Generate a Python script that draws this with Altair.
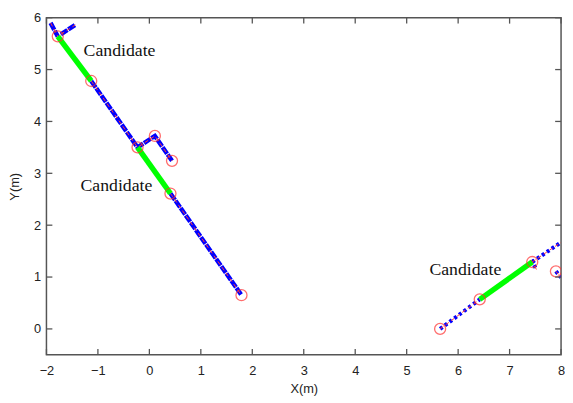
import altair as alt
import pandas as pd

# ---- data ----
# dense blue scan segments (left cluster)
dense_seg = ["A", "A", "B", "B", "C", "C", "C", "C", "D", "D"]
dense_x = [-1.92, -1.78, -1.72, -1.44, -1.13, -0.23, 0.107, 0.44, 0.41, 1.79]
dense_y = [5.90, 5.64, 5.68, 5.86, 4.78, 3.50, 3.72, 3.24, 2.61, 0.65]

# sparse blue scan segments (right cluster)
sparse_seg = ["E", "E", "F", "F", "G", "G", "H", "H"]
sparse_x = [5.65, 6.42, 7.44, 8.0, 7.42, 7.53, 7.90, 8.0]
sparse_y = [0.00, 0.57, 1.29, 1.67, 1.33, 1.13, 1.11, 0.99]

# green candidate segments
green_seg = ["G1", "G1", "G2", "G2", "G3", "G3"]
green_x = [-1.78, -1.13, -0.23, 0.41, 6.42, 7.44]
green_y = [5.64, 4.78, 3.50, 2.61, 0.57, 1.29]

# red circles (segment end points)
circle_x = [-1.78, -1.13, -0.23, 0.107, 0.44, 0.41, 1.79, 5.65, 6.42, 7.44, 7.90]
circle_y = [5.64, 4.78, 3.50, 3.72, 3.24, 2.61, 0.65, 0.00, 0.57, 1.29, 1.11]

# labels
label_text = ["Candidate", "Candidate", "Candidate"]
label_x = [-0.58, -0.64, 6.14]
label_y = [5.27, 2.66, 1.03]

x_ticks = [-2, -1, 0, 1, 2, 3, 4, 5, 6, 7, 8]
y_ticks = [0, 1, 2, 3, 4, 5, 6]

W, H = 522, 342
TICK = 6


def seg_frame(segs, xs, ys):
    return pd.DataFrame({"seg": segs, "x": xs, "y": ys, "ord": list(range(len(xs)))})


dense_df = seg_frame(dense_seg, dense_x, dense_y)
sparse_df = seg_frame(sparse_seg, sparse_x, sparse_y)
all_blue_df = pd.concat([dense_df, sparse_df], ignore_index=True)
all_blue_df["ord"] = range(len(all_blue_df))
green_df = seg_frame(green_seg, green_x, green_y)
circle_df = pd.DataFrame({"x": circle_x, "y": circle_y})
label_df = pd.DataFrame({"t": label_text, "x": label_x, "y": label_y})
xt_df = pd.DataFrame({"x": x_ticks})
yt_df = pd.DataFrame({"y": y_ticks})

FRAME = "#555555"
TXT = "#222222"
xscale = alt.Scale(domain=[-2, 8], nice=False, zero=False)
yscale = alt.Scale(domain=[-0.5, 6], nice=False, zero=False)

x_main = alt.Axis(orient="bottom", values=x_ticks, domain=False, grid=False, ticks=False,
                  labelFont="Liberation Sans", labelFontSize=13, labelColor=TXT,
                  labelPadding=10, labelOverlap=False, labelFlush=False, title="X(m)",
                  titleFont="Liberation Sans", titleFontSize=13, titleFontWeight="normal",
                  titleColor=TXT, titlePadding=5)
y_main = alt.Axis(orient="left", values=y_ticks, domain=False, grid=False, ticks=False,
                  labelFont="Liberation Sans", labelFontSize=13, labelColor=TXT,
                  labelPadding=6, labelOverlap=False, labelFlush=False, title="Y(m)",
                  titleFont="Liberation Sans", titleFontSize=13, titleFontWeight="normal",
                  titleColor=TXT, titlePadding=12)

XE = alt.X("x:Q", scale=xscale, axis=x_main, title="X(m)")
YE = alt.Y("y:Q", scale=yscale, axis=y_main, title="Y(m)")

blue_dense = alt.Chart(dense_df).mark_line(
    color="#0000FF", strokeWidth=4.5, strokeDash=[8, 1], clip=True
).encode(x=XE, y=YE, detail="seg:N", order="ord:Q")

blue_sparse = alt.Chart(sparse_df).mark_line(
    color="#0000FF", strokeWidth=4, strokeDash=[3, 3], clip=True
).encode(x=XE, y=YE, detail="seg:N", order="ord:Q")

red = alt.Chart(all_blue_df).mark_line(
    color="#FF3B3B", strokeWidth=1, strokeDash=[4, 3], clip=True
).encode(x=XE, y=YE, detail="seg:N", order="ord:Q")

green = alt.Chart(green_df).mark_line(
    color="#00FF00", strokeWidth=5.5, strokeCap="butt", clip=True
).encode(x=XE, y=YE, detail="seg:N", order="ord:Q")

circles = alt.Chart(circle_df).mark_point(
    shape="circle", size=125, filled=False, color="#FF3030", strokeWidth=1.3, clip=True
).encode(x=XE, y=YE)

labels = alt.Chart(label_df).mark_text(
    font="Liberation Serif", fontSize=18, color="#111111", align="center",
    baseline="alphabetic"
).encode(x=XE, y=YE, text="t:N")

# inward tick marks on all four sides (MATLAB box style)
tick_style = dict(color=FRAME, strokeWidth=1.3)
ticks_bottom = alt.Chart(xt_df).mark_rule(**tick_style).encode(
    x=XE, y=alt.value(H), y2=alt.value(H - TICK))
ticks_top = alt.Chart(xt_df).mark_rule(**tick_style).encode(
    x=XE, y=alt.value(0), y2=alt.value(TICK))
ticks_left = alt.Chart(yt_df).mark_rule(**tick_style).encode(
    y=YE, x=alt.value(0), x2=alt.value(TICK))
ticks_right = alt.Chart(yt_df).mark_rule(**tick_style).encode(
    y=YE, x=alt.value(W), x2=alt.value(W - TICK))

chart = alt.layer(
    blue_dense, blue_sparse, red, green, circles, labels,
    ticks_bottom, ticks_top, ticks_left, ticks_right,
).properties(
    width=W, height=H,
    autosize=alt.AutoSizeParams(type="none"),
    padding={"left": 39, "top": 7, "right": 4, "bottom": 46},
    background="white",
).configure_view(stroke=FRAME, strokeWidth=1.5)

chart.save("out.html", embed_options={"renderer": "svg", "actions": False})
